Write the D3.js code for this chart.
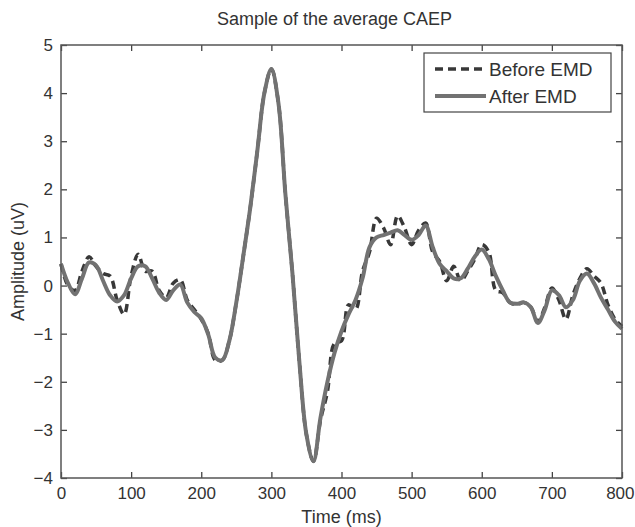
<!DOCTYPE html>
<html>
<head>
<meta charset="utf-8">
<script src="https://cdn.jsdelivr.net/npm/d3@7"></script>
<style>
  body { margin: 0; background: #fff; }
  text { font-family: "Liberation Sans", Arial, sans-serif; fill: #333; }
</style>
</head>
<body>
<svg id="chart" width="635" height="527"></svg>
<script>
// time axis (ms), sampled every 10 ms
const timeMs = d3.range(0, 801, 10)

// raw average (dashed)
const beforeEMD = [
  0.45, 0.0, -0.1, 0.3, 0.6, 0.4, 0.25, 0.2, -0.3, -0.6,
  0.2, 0.65, 0.3, 0.3, -0.1, -0.25, 0.05, 0.12, -0.3, -0.5,
  -0.7, -1.0, -1.55, -1.55, -1.15, -0.35, 0.62, 1.63, 2.8, 4.0,
  4.5, 3.8, 1.9, 0.26, -1.6, -3.1, -3.65, -2.8, -2.2, -1.2,
  -1.15, -0.4, -0.5, 0.3, 0.7, 1.4, 1.2, 0.85, 1.45, 1.2,
  0.85, 1.15, 1.3, 0.7, 0.5, 0.1, 0.4, 0.1, 0.3, 0.55,
  0.85, 0.7, -0.1, -0.15, -0.35, -0.4, -0.35, -0.45, -0.75, -0.45,
  -0.05, -0.3, -0.7, -0.2, 0.15, 0.35, 0.2, 0.05, -0.4, -0.7,
  -0.85
]

// denoised average (solid)
const afterEMD = [
  0.45, 0.05, -0.18, 0.15, 0.48, 0.42, 0.1, -0.2, -0.33, -0.2,
  0.15, 0.4, 0.4, 0.15, -0.15, -0.3, -0.1, 0.02, -0.35, -0.55,
  -0.68, -1.02, -1.5, -1.55, -1.15, -0.35, 0.62, 1.63, 2.8, 4.0,
  4.5, 3.8, 1.9, 0.26, -1.6, -3.1, -3.65, -2.75, -2.0, -1.4,
  -0.95, -0.6, -0.3, 0.15, 0.8, 1.0, 1.05, 1.1, 1.15, 1.05,
  0.95, 1.05, 1.25, 0.8, 0.45, 0.3, 0.15, 0.15, 0.35, 0.6,
  0.75, 0.55, 0.2, -0.1, -0.35, -0.38, -0.35, -0.45, -0.78, -0.5,
  -0.1, -0.2, -0.45, -0.3, 0.1, 0.25, 0.05, -0.25, -0.5, -0.75,
  -0.9
]

const xTicks = [0, 100, 200, 300, 400, 500, 600, 700, 800]
const yTicks = [-4, -3, -2, -1, 0, 1, 2, 3, 4, 5]
const seriesNames = ["Before EMD", "After EMD"]

let svg = d3.select('#chart')
let margin = {left: 61, right: 13, top: 45, bottom: 49}
let width = 635 - margin.left - margin.right
let height = 527 - margin.top - margin.bottom

let x = d3.scaleLinear().domain([0, 800]).range([0, width])
let y = d3.scaleLinear().domain([-4, 5]).range([height, 0])

let g = svg.append('g').attr('transform', `translate(${margin.left},${margin.top})`)

// lines
let line = d3.line()
    .x(function (d) { return x(d[0]) })
    .y(function (d) { return y(d[1]) })
    .curve(d3.curveCatmullRom)

g.append('path')
    .datum(d3.zip(timeMs, beforeEMD))
    .attr('d', line)
    .attr('fill', 'none')
    .attr('stroke', '#383838')
    .attr('stroke-width', 3.5)
    .attr('stroke-dasharray', '8,5')

g.append('path')
    .datum(d3.zip(timeMs, afterEMD))
    .attr('d', line)
    .attr('fill', 'none')
    .attr('stroke', '#727272')
    .attr('stroke-width', 4)

// axes, matlab style box with inward ticks
function styleAxis(sel) {
    sel.select('.domain').remove()
    sel.selectAll('.tick line').attr('stroke', '#444').attr('stroke-width', 1.3)
    sel.selectAll('.tick text').style('font-size', '17px').attr('fill', '#333')
}

let xAxisG = g.append('g')
    .attr('transform', `translate(0,${height})`)
    .call(d3.axisBottom(x).tickValues(xTicks).tickSize(-6).tickPadding(9))
    .call(styleAxis)
// keep the last label inside the page
xAxisG.selectAll('.tick text')
    .filter(function (d) { return d === 800 })
    .attr('text-anchor', 'end')
    .attr('dx', '12px')

g.append('g')
    .call(d3.axisTop(x).tickValues(xTicks).tickSize(-6).tickFormat(''))
    .call(styleAxis)

g.append('g')
    .call(d3.axisLeft(y).tickValues(yTicks).tickSize(-6).tickPadding(8))
    .call(styleAxis)

g.append('g')
    .attr('transform', `translate(${width},0)`)
    .call(d3.axisRight(y).tickValues(yTicks).tickSize(-6).tickFormat(''))
    .call(styleAxis)

g.append('rect')
    .attr('width', width).attr('height', height)
    .attr('fill', 'none')
    .attr('stroke', '#555')
    .attr('stroke-width', 1.5)

// titles
svg.append('text')
    .attr('x', margin.left + width / 2 - 7).attr('y', 25)
    .attr('text-anchor', 'middle')
    .style('font-size', '18px')
    .text('Sample of the average CAEP')

svg.append('text')
    .attr('x', margin.left + width / 2).attr('y', 523)
    .attr('text-anchor', 'middle')
    .style('font-size', '18px')
    .text('Time (ms)')

svg.append('text')
    .attr('transform', `translate(24,${margin.top + height / 2}) rotate(-90)`)
    .attr('text-anchor', 'middle')
    .style('font-size', '18px')
    .text('Amplitude (uV)')

// legend
let legend = svg.append('g').attr('transform', 'translate(424,53)')
legend.append('rect')
    .attr('width', 187).attr('height', 59)
    .attr('fill', '#fff')
    .attr('stroke', '#444')
    .attr('stroke-width', 1.2)

let styles = [
    {stroke: '#383838', dash: '8,5', w: 3.5},
    {stroke: '#727272', dash: null, w: 4}
]
seriesNames.forEach(function (name, i) {
    let yy = 16 + i * 27
    legend.append('line')
        .attr('x1', 11).attr('x2', 62)
        .attr('y1', yy).attr('y2', yy)
        .attr('stroke', styles[i].stroke)
        .attr('stroke-width', styles[i].w)
        .attr('stroke-dasharray', styles[i].dash)
    legend.append('text')
        .attr('x', 65).attr('y', yy + 7)
        .style('font-size', '19px')
        .text(name)
})
</script>
</body>
</html>
